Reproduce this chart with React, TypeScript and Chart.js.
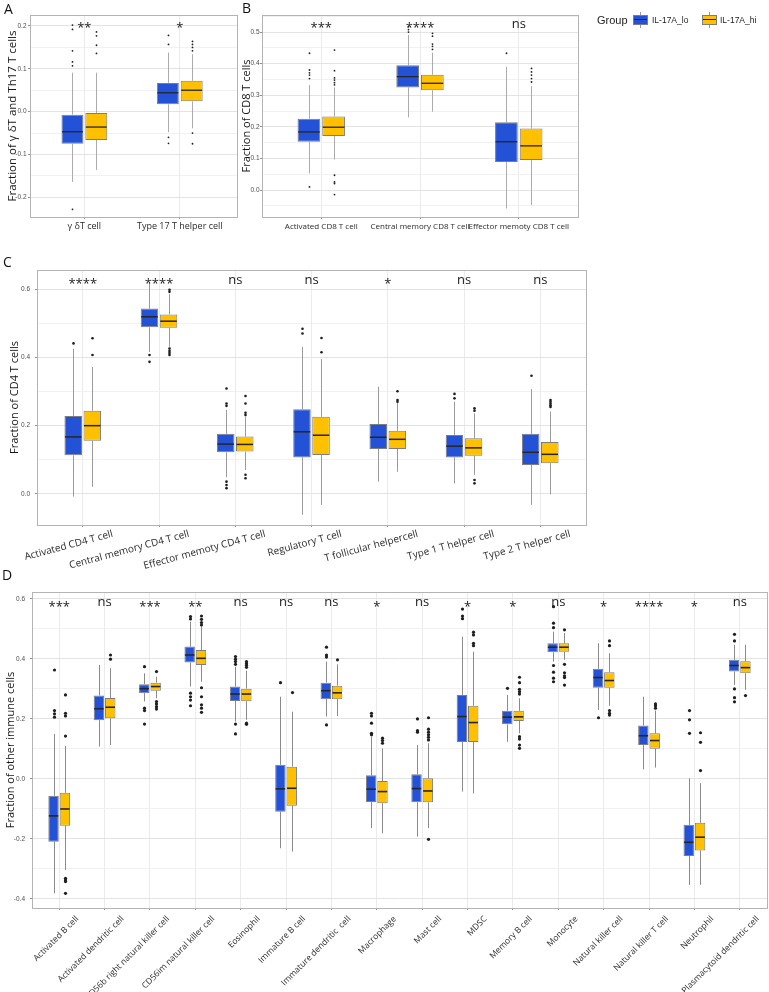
import React, { useEffect, useRef } from "react";
import { Chart, registerables } from "chart.js";

Chart.register(...registerables);

const FONT = "'Open Sans', 'Noto Sans', sans-serif";
const SERIES = ["IL-17A_lo", "IL-17A_hi"];
const BLUE = "#2452D6";
const GOLD = "#FFC000";

// Each stats row: [lower whisker, Q1, median, Q3, upper whisker]

// ---------- Panel A ----------
const aCats = ["γ δT cell", "Type 17 T helper cell"];
const aSig = ["**", "*"];
const aLoStats = [
  [-0.164, -0.075, -0.047, -0.007, 0.091],
  [-0.048, 0.017, 0.044, 0.067, 0.138],
];
const aLoOut = [
  [0.202, 0.192, 0.142, 0.116, 0.107, -0.228],
  [0.178, 0.157, -0.06, -0.074],
];
const aHiStats = [
  [-0.136, -0.066, -0.036, -0.003, 0.091],
  [-0.039, 0.024, 0.05, 0.072, 0.134],
];
const aHiOut = [
  [0.186, 0.177, 0.155, 0.136],
  [0.164, 0.157, 0.15, 0.142, -0.05, -0.075],
];
const aYTicks = [-0.2, -0.1, 0, 0.1, 0.2];

// ---------- Panel B ----------
const bCats = ["Activated CD8 T cell", "Central memory CD8 T cell", "Effector memoty CD8 T cell"];
const bSig = ["***", "****", "ns"];
const bLoStats = [
  [0.053, 0.153, 0.184, 0.226, 0.332],
  [0.23, 0.325, 0.359, 0.395, 0.491],
  [-0.058, 0.089, 0.153, 0.215, 0.39],
];
const bLoOut = [
  [0.433, 0.38, 0.371, 0.364, 0.353, 0.01],
  [0.517, 0.508, 0.5],
  [0.433],
];
const bHiStats = [
  [0.097, 0.171, 0.199, 0.233, 0.325],
  [0.248, 0.316, 0.338, 0.365, 0.435],
  [-0.047, 0.095, 0.14, 0.195, 0.329],
];
const bHiOut = [
  [0.443, 0.378, 0.355, 0.348, 0.34, 0.333, 0.047, 0.026, 0.021, -0.014],
  [0.496, 0.487, 0.462, 0.455, 0.445],
  [0.385, 0.374, 0.364, 0.353, 0.342],
];
const bYTicks = [0, 0.1, 0.2, 0.3, 0.4, 0.5];

// ---------- Panel C ----------
const cCats = [
  "Activated CD4 T cell",
  "Central memory CD4 T cell",
  "Effector memoty CD4 T cell",
  "Regulatory T cell",
  "T follicular helpercell",
  "Type 1 T helper cell",
  "Type 2 T helper cell",
];
const cSig = ["****", "****", "ns", "ns", "*", "ns", "ns"];
const cLoStats = [
  [-0.008, 0.113, 0.167, 0.228, 0.425],
  [0.416, 0.488, 0.519, 0.543, 0.618],
  [0.049, 0.122, 0.146, 0.176, 0.246],
  [-0.061, 0.107, 0.182, 0.248, 0.431],
  [0.036, 0.132, 0.166, 0.205, 0.314],
  [0.031, 0.107, 0.14, 0.173, 0.27],
  [-0.032, 0.085, 0.122, 0.176, 0.307],
];
const cLoOut = [
  [0.441],
  [0.407, 0.387],
  [0.309, 0.265, 0.258, 0.036, 0.026, 0.017],
  [0.484, 0.47],
  [],
  [0.293, 0.28],
  [0.346],
];
const cHiStats = [
  [0.021, 0.156, 0.2, 0.244, 0.372],
  [0.431, 0.487, 0.506, 0.526, 0.585],
  [0.07, 0.124, 0.145, 0.168, 0.225],
  [-0.032, 0.114, 0.172, 0.226, 0.395],
  [0.065, 0.132, 0.16, 0.185, 0.267],
  [0.056, 0.112, 0.135, 0.163, 0.236],
  [-0.001, 0.09, 0.116, 0.152, 0.241],
];
const cHiOut = [
  [0.456, 0.407],
  [0.598, 0.592, 0.426, 0.419, 0.413, 0.407],
  [0.287, 0.265, 0.238, 0.231, 0.056, 0.046],
  [0.457, 0.415],
  [0.301, 0.275, 0.27],
  [0.251, 0.244, 0.041, 0.031],
  [0.275, 0.27, 0.265, 0.26, 0.255],
];
const cYTicks = [0, 0.2, 0.4, 0.6];

// ---------- Panel D ----------
const dCats = [
  "Activated B cell",
  "Activated dendritic cell",
  "CD56b right natural killer cell",
  "CD56im natural killer cell",
  "Eosinophil",
  "Immature B cell",
  "Immature dendritic  cell",
  "Macrophage",
  "Mast cell",
  "MDSC",
  "Memory B cell",
  "Monocyte",
  "Natural killer cell",
  "Natural killer T cell",
  "Neutrophil",
  "Plasmacytoid dendritic cell",
];
const dSig = ["***", "ns", "***", "**", "ns", "ns", "ns", "*", "ns", "*", "*", "ns", "*", "****", "*", "ns"];
const dLoStats = [
  [-0.381, -0.209, -0.123, -0.056, 0.15],
  [0.108, 0.196, 0.234, 0.278, 0.38],
  [0.258, 0.286, 0.301, 0.316, 0.352],
  [0.308, 0.388, 0.413, 0.441, 0.524],
  [0.191, 0.26, 0.283, 0.308, 0.374],
  [-0.231, -0.109, -0.033, 0.047, 0.274],
  [0.208, 0.266, 0.294, 0.321, 0.391],
  [-0.164, -0.077, -0.034, 0.012, 0.14],
  [-0.192, -0.078, -0.032, 0.016, 0.113],
  [-0.042, 0.123, 0.208, 0.28, 0.474],
  [0.124, 0.182, 0.206, 0.227, 0.28],
  [0.391, 0.422, 0.439, 0.452, 0.491],
  [0.23, 0.304, 0.338, 0.367, 0.452],
  [0.032, 0.113, 0.144, 0.178, 0.274],
  [-0.353, -0.257, -0.211, -0.153, 0.002],
  [0.313, 0.358, 0.378, 0.397, 0.447],
];
const dLoOut = [
  [0.363, 0.228, 0.217, 0.206],
  [],
  [0.374, 0.236, 0.228, 0.183],
  [0.541, 0.533, 0.286, 0.274, 0.263, 0.244],
  [0.408, 0.399, 0.391, 0.382, 0.183, 0.15],
  [0.321],
  [0.439, 0.413, 0.406, 0.18],
  [0.219, 0.21, 0.186, 0.152, 0.147],
  [0.2, 0.161, 0.156],
  [0.566, 0.543, 0.534],
  [0.302],
  [0.574, 0.519, 0.504, 0.378, 0.356, 0.336, 0.324],
  [0.204],
  [],
  [0.228, 0.197, 0.152],
  [0.482, 0.46, 0.3, 0.271, 0.257],
];
const dHiStats = [
  [-0.303, -0.156, -0.1, -0.046, 0.11],
  [0.113, 0.202, 0.239, 0.27, 0.369],
  [0.269, 0.294, 0.308, 0.321, 0.341],
  [0.324, 0.38, 0.402, 0.43, 0.508],
  [0.197, 0.259, 0.283, 0.301, 0.361],
  [-0.242, -0.089, -0.031, 0.041, 0.224],
  [0.21, 0.266, 0.287, 0.311, 0.382],
  [-0.181, -0.081, -0.042, -0.007, 0.102],
  [-0.164, -0.078, -0.04, 0.002, 0.119],
  [-0.048, 0.123, 0.188, 0.244, 0.424],
  [0.152, 0.193, 0.207, 0.227, 0.269],
  [0.397, 0.424, 0.439, 0.452, 0.486],
  [0.244, 0.304, 0.328, 0.356, 0.419],
  [0.038, 0.101, 0.128, 0.152, 0.228],
  [-0.353, -0.238, -0.194, -0.146, -0.014],
  [0.297, 0.352, 0.371, 0.392, 0.447],
];
const dHiOut = [
  [0.28, 0.219, 0.21, 0.143, -0.331, -0.337, -0.342, -0.381],
  [0.413, 0.399],
  [0.358, 0.258, 0.25, 0.241, 0.233],
  [0.543, 0.532, 0.521, 0.513, 0.304, 0.274, 0.247, 0.236, 0.222],
  [0.391, 0.385, 0.379, 0.372, 0.186, 0.182],
  [0.288],
  [0.397],
  [0.136, 0.128, 0.119],
  [0.204, 0.166, 0.156, 0.147, 0.139, 0.13, -0.201],
  [0.489, 0.48, 0.452, 0.444],
  [0.339, 0.321, 0.299, 0.291, 0.283, 0.141, 0.133, 0.113, 0.102],
  [0.497, 0.382, 0.354, 0.344, 0.338, 0.313],
  [0.46, 0.444, 0.228, 0.219, 0.213],
  [0.25, 0.244, 0.236],
  [0.154, 0.122, 0.028],
  [0.278],
];
const dYTicks = [-0.4, -0.2, 0, 0.2, 0.4, 0.6];

type Panel = {
  key: string;
  left: number;
  top: number;
  w: number;
  h: number;
  area: number[]; // l, t, r, b inside canvas
  xMin: number;
  xMax: number;
  cats: string[];
  sig: string[];
  lo: number[][];
  hi: number[][];
  loOut: number[][];
  hiOut: number[][];
  yMin: number;
  yMax: number;
  yMajor: number[];
  yStep: number;
  yTitle: string;
  titleFont: number;
  titlePad: number;
  sigY: number;
  rotation: number;
  labelOffset: number;
  xFont: number;
  xPad: number;
  yPad: number;
  whisker: string;
  dotR: number;
  medW: number;
};

const panels: Panel[] = [
  {
    key: "A", left: 0, top: 0, w: 240, h: 245, area: [30, 15, 237, 217], xMin: 0.43, xMax: 2.6,
    cats: aCats, sig: aSig, lo: aLoStats, hi: aHiStats, loOut: aLoOut, hiOut: aHiOut,
    yMin: -0.246, yMax: 0.2256, yMajor: aYTicks, yStep: 0.1,
    yTitle: "Fraction of γ δT and Th17 T cells", titleFont: 11.5, titlePad: 6,
    sigY: 0.205, rotation: 0, labelOffset: 0, xFont: 9, xPad: 2.5, yPad: 1.5,
    whisker: "#ababab", dotR: 0.9, medW: 1.3,
  },
  {
    key: "B", left: 230, top: 0, w: 362, h: 245, area: [32, 15, 348, 217], xMin: 0.4, xMax: 3.6,
    cats: bCats, sig: bSig, lo: bLoStats, hi: bHiStats, loOut: bLoOut, hiOut: bHiOut,
    yMin: -0.085, yMax: 0.554, yMajor: bYTicks, yStep: 0.1,
    yTitle: "Fraction of CD8 T cells", titleFont: 11, titlePad: 10.4,
    sigY: 0.525, rotation: 0, labelOffset: 0, xFont: 8, xPad: 2.5, yPad: 0.5,
    whisker: "#ababab", dotR: 0.9, medW: 1.3,
  },
  {
    key: "C", left: 0, top: 240, w: 600, h: 330, area: [37, 30, 586, 285], xMin: 0.4, xMax: 7.6,
    cats: cCats, sig: cSig, lo: cLoStats, hi: cHiStats, loOut: cLoOut, hiOut: cHiOut,
    yMin: -0.091, yMax: 0.656, yMajor: cYTicks, yStep: 0.2,
    yTitle: "Fraction of CD4 T cells", titleFont: 11, titlePad: 8.4,
    sigY: 0.626, rotation: 15, labelOffset: 30, xFont: 10, xPad: 1, yPad: 5,
    whisker: "#9a9a9a", dotR: 1.3, medW: 1.5,
  },
  {
    key: "D", left: 0, top: 570, w: 769, h: 422, area: [32, 22, 767, 338], xMin: 0.4, xMax: 16.6,
    cats: dCats, sig: dSig, lo: dLoStats, hi: dHiStats, loOut: dLoOut, hiOut: dHiOut,
    yMin: -0.43, yMax: 0.623, yMajor: dYTicks, yStep: 0.2,
    yTitle: "Fraction of other immune cells", titleFont: 11, titlePad: 4.4,
    sigY: 0.587, rotation: 45, labelOffset: 18, xFont: 8.5, xPad: 4, yPad: 5,
    whisker: "#8a8a8a", dotR: 1.6, medW: 1.6,
  },
];

function fmt(v: number) {
  const r = Math.round(v * 10) / 10;
  return (r === 0 ? 0 : r).toFixed(1);
}

function buildChart(canvas: HTMLCanvasElement, p: Panel) {
  const [L, T, R, B] = p.area;
  const isMajor = (v: number) => Math.abs(v / p.yStep - Math.round(v / p.yStep)) < 1e-6;
  const half = p.yStep / 2;
  const minors: number[] = [];
  for (let i = 0; i < p.yMajor.length - 1; i++) minors.push((p.yMajor[i] + p.yMajor[i + 1]) / 2);
  const below = p.yMajor[0] - half;
  const above = p.yMajor[p.yMajor.length - 1] + half;
  if (below >= p.yMin) minors.push(below);
  if (above <= p.yMax) minors.push(above);
  const yTickVals = [...p.yMajor, ...minors].sort((a, b) => a - b);
  const groups = [p.lo, p.hi];
  const outs = [p.loOut, p.hiOut];

  const plugin = {
    id: "boxExtras" + p.key,
    beforeDatasetsDraw(chart: any) {
      const ctx = chart.ctx;
      const ys = chart.scales.y;
      ctx.save();
      ctx.strokeStyle = p.whisker;
      ctx.lineWidth = 1;
      groups.forEach((stats, di) => {
        const meta = chart.getDatasetMeta(di);
        stats.forEach((s, i) => {
          const el = meta.data[i];
          const x = Math.round(el.x) + 0.5;
          ctx.beginPath();
          ctx.moveTo(x, ys.getPixelForValue(s[0]));
          ctx.lineTo(x, ys.getPixelForValue(s[1]));
          ctx.moveTo(x, ys.getPixelForValue(s[3]));
          ctx.lineTo(x, ys.getPixelForValue(s[4]));
          ctx.stroke();
        });
      });
      ctx.restore();
    },
    afterDatasetsDraw(chart: any) {
      const ctx = chart.ctx;
      const ys = chart.scales.y;
      const xs = chart.scales.x;
      const area = chart.chartArea;
      ctx.save();
      groups.forEach((stats, di) => {
        const meta = chart.getDatasetMeta(di);
        stats.forEach((s, i) => {
          const el = meta.data[i];
          const w = el.width;
          const ym = ys.getPixelForValue(s[2]);
          ctx.strokeStyle = "#262626";
          ctx.lineWidth = p.medW;
          ctx.beginPath();
          ctx.moveTo(el.x - w / 2 + 0.5, ym);
          ctx.lineTo(el.x + w / 2 - 0.5, ym);
          ctx.stroke();
          ctx.fillStyle = "#1e1e1e";
          outs[di][i].forEach((v) => {
            ctx.beginPath();
            ctx.arc(Math.round(el.x) + 0.5, ys.getPixelForValue(v), p.dotR, 0, Math.PI * 2);
            ctx.fill();
          });
        });
      });
      // significance labels
      const fs = 13;
      ctx.font = `${fs}px ${FONT}`;
      ctx.fillStyle = "#1a1a1a";
      ctx.textAlign = "center";
      ctx.textBaseline = "alphabetic";
      p.sig.forEach((s, i) => {
        const x = xs.getPixelForValue(i + 1);
        const yc = ys.getPixelForValue(p.sigY);
        const base = s.includes("*") ? yc + fs * 0.62 : yc + fs * 0.27;
        ctx.fillText(s, x, base);
      });
      // panel border
      ctx.strokeStyle = "#b4b4b4";
      ctx.lineWidth = 1;
      ctx.strokeRect(Math.round(area.left) + 0.5, Math.round(area.top) + 0.5, Math.round(area.right - area.left), Math.round(area.bottom - area.top));
      ctx.restore();
    },
  };

  return new Chart(canvas, {
    type: "bar",
    data: {
      datasets: groups.map((stats, di) => ({
        label: SERIES[di],
        data: stats.map((s, i) => ({ x: i + 1, y: [s[1], s[3]] })),
        backgroundColor: di === 0 ? BLUE : GOLD,
        borderColor: "#7d7d7d",
        borderWidth: 1,
        borderSkipped: false,
        categoryPercentage: 0.5,
        barPercentage: 0.92,
      })) as any,
    },
    options: {
      responsive: false,
      animation: false,
      devicePixelRatio: 1,
      layout: { padding: { left: 0, top: T, right: p.w - R, bottom: 0 } },
      plugins: { legend: { display: false }, tooltip: { enabled: false } },
      scales: {
        x: {
          type: "linear",
          min: p.xMin,
          max: p.xMax,
          offset: false,
          afterBuildTicks: (s: any) => {
            s.ticks = p.cats.map((_, i) => ({ value: i + 1 }));
          },
          afterFit: (s: any) => {
            s.height = p.h - B;
            s.paddingLeft = 0;
            s.paddingRight = 0;
          },
          grid: { offset: false, color: "#ebebeb", lineWidth: 1, tickLength: 2, tickColor: "#8f8f8f" },
          border: { display: false },
          ticks: {
            autoSkip: false,
            minRotation: p.rotation,
            maxRotation: p.rotation,
            labelOffset: p.labelOffset,
            padding: p.xPad,
            color: "#2b2b2b",
            font: { size: p.xFont, family: FONT },
            callback: (v: any) => p.cats[Math.round(Number(v)) - 1] ?? "",
          },
        },
        y: {
          type: "linear",
          min: p.yMin,
          max: p.yMax,
          afterBuildTicks: (s: any) => {
            s.ticks = yTickVals.map((v) => ({ value: v }));
          },
          afterFit: (s: any) => {
            s.width = L;
            s.paddingTop = 0;
            s.paddingBottom = 0;
          },
          grid: {
            color: (c: any) => (c.tick && isMajor(c.tick.value) ? "#e3e3e3" : "#f1f1f1"),
            tickColor: (c: any) => (c.tick && isMajor(c.tick.value) ? "#8f8f8f" : "rgba(0,0,0,0)"),
            tickLength: 2,
            lineWidth: 1,
          },
          border: { display: false },
          ticks: {
            padding: p.yPad,
            color: "#4d4d4d",
            font: { size: 6.5, family: "'Liberation Sans', sans-serif" },
            callback: (v: any) => (isMajor(Number(v)) ? fmt(Number(v)) : ""),
          },
          title: {
            display: true,
            text: p.yTitle,
            color: "#161616",
            font: { size: p.titleFont, family: FONT },
            padding: { top: p.titlePad, bottom: 0 },
          },
        },
      },
    } as any,
    plugins: [plugin],
  });
}

function PanelChart({ p }: { p: Panel }) {
  const ref = useRef<HTMLCanvasElement | null>(null);
  useEffect(() => {
    if (!ref.current) return;
    const chart = buildChart(ref.current, p);
    return () => chart.destroy();
  }, [p]);
  return (
    <canvas
      ref={ref}
      width={p.w}
      height={p.h}
      style={{ position: "absolute", left: p.left, top: p.top, width: p.w, height: p.h }}
    />
  );
}

function Swatch({ color, left }: { color: string; left: number }) {
  return (
    <div style={{ position: "absolute", left, top: 12, width: 15, height: 16 }}>
      <div style={{ position: "absolute", left: 7, top: 0, width: 1, height: 16, background: "#9a9a9a" }} />
      <div
        style={{
          position: "absolute",
          left: 0,
          top: 3,
          width: 13,
          height: 8,
          background: color,
          border: "1px solid #7d7d7d",
        }}
      />
      <div style={{ position: "absolute", left: 1, top: 7, width: 13, height: 1.3, background: "#262626" }} />
    </div>
  );
}

const letterStyle: React.CSSProperties = {
  position: "absolute",
  fontFamily: FONT,
  fontSize: 14,
  lineHeight: "14px",
  color: "#111",
};

const legendText: React.CSSProperties = {
  position: "absolute",
  top: 13,
  height: 14,
  lineHeight: "14px",
  fontFamily: "'Liberation Sans', Arial, sans-serif",
  color: "#222",
};

export default function App() {
  return (
    <div
      style={{
        position: "absolute",
        left: 0,
        top: 0,
        width: 769,
        height: 992,
        background: "#ffffff",
        overflow: "hidden",
      }}
    >
      {panels.map((p) => (
        <PanelChart key={p.key} p={p} />
      ))}
      <div style={{ ...letterStyle, left: 4, top: 1.6 }}>A</div>
      <div style={{ ...letterStyle, left: 242, top: 0.6 }}>B</div>
      <div style={{ ...letterStyle, left: 3, top: 254.6 }}>C</div>
      <div style={{ ...letterStyle, left: 2, top: 567.6 }}>D</div>
      <div style={{ ...legendText, left: 597, fontSize: 11 }}>Group</div>
      <Swatch color={BLUE} left={633} />
      <div style={{ ...legendText, left: 652, fontSize: 8.5 }}>{SERIES[0]}</div>
      <Swatch color={GOLD} left={702} />
      <div style={{ ...legendText, left: 720, fontSize: 8.5 }}>{SERIES[1]}</div>
    </div>
  );
}
